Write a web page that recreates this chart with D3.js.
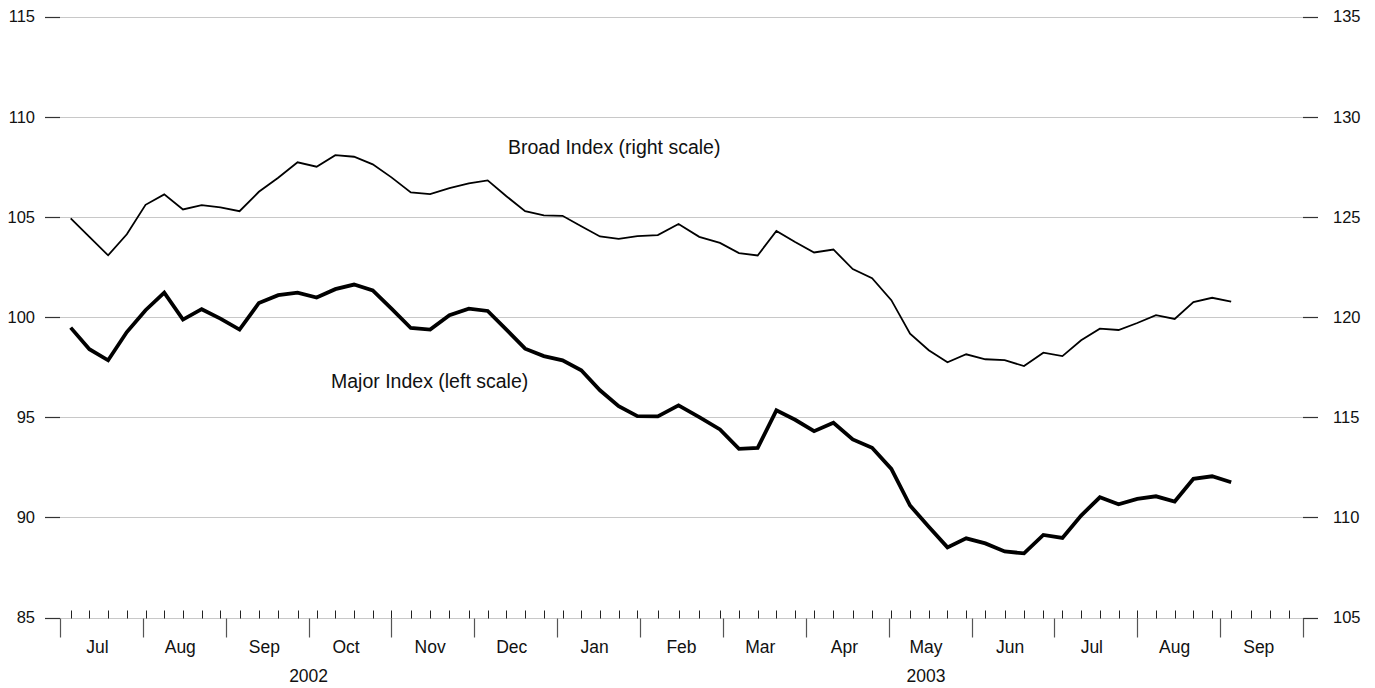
<!DOCTYPE html>
<html>
<head>
<meta charset="utf-8">
<script src="https://cdn.jsdelivr.net/npm/d3@7"></script>
<style>
  html, body { margin: 0; padding: 0; background: #fff; }
  svg { display: block; }
  text { font-family: "Liberation Sans", Helvetica, Arial, sans-serif; fill: #111; }
</style>
</head>
<body>
<svg id="chart" width="1375" height="688"></svg>
<script>
// ---------------- DATA ----------------
const weekDates = [
  "2002-07-05","2002-07-12","2002-07-19","2002-07-26",
  "2002-08-02","2002-08-09","2002-08-16","2002-08-23","2002-08-30",
  "2002-09-06","2002-09-13","2002-09-20","2002-09-27",
  "2002-10-04","2002-10-11","2002-10-18","2002-10-25",
  "2002-11-01","2002-11-08","2002-11-15","2002-11-22","2002-11-29",
  "2002-12-06","2002-12-13","2002-12-20","2002-12-27",
  "2003-01-03","2003-01-10","2003-01-17","2003-01-24","2003-01-31",
  "2003-02-07","2003-02-14","2003-02-21","2003-02-28",
  "2003-03-07","2003-03-14","2003-03-21","2003-03-28",
  "2003-04-04","2003-04-11","2003-04-18","2003-04-25",
  "2003-05-02","2003-05-09","2003-05-16","2003-05-23","2003-05-30",
  "2003-06-06","2003-06-13","2003-06-20","2003-06-27",
  "2003-07-04","2003-07-11","2003-07-18","2003-07-25",
  "2003-08-01","2003-08-08","2003-08-15","2003-08-22","2003-08-29",
  "2003-09-05"
];

// Broad Index (right scale)
const broadIndex = [
  124.92, 124.00, 123.08, 124.13,
  125.60, 126.12, 125.37, 125.58, 125.47,
  125.28, 126.25, 126.95, 127.72,
  127.50, 128.08, 128.00, 127.62,
  126.97, 126.22, 126.13, 126.43, 126.67,
  126.82, 126.03, 125.28, 125.07,
  125.05, 124.53, 124.02, 123.90, 124.04,
  124.09, 124.64, 124.00, 123.70,
  123.19, 123.07, 124.30, 123.74,
  123.22, 123.37, 122.39, 121.94,
  120.84, 119.17, 118.34, 117.74, 118.14,
  117.89, 117.85, 117.55, 118.22,
  118.05, 118.84, 119.42, 119.35,
  119.70, 120.09, 119.90, 120.74, 120.96,
  120.77
];

// Major Index (left scale)
const majorIndex = [
  99.47, 98.39, 97.84, 99.25,
  100.34, 101.22, 99.87, 100.39, 99.92,
  99.37, 100.70, 101.09, 101.22,
  100.97, 101.39, 101.62, 101.33,
  100.42, 99.45, 99.37, 100.09, 100.42,
  100.30, 99.37, 98.42, 98.05,
  97.84, 97.34, 96.34, 95.55, 95.05,
  95.04, 95.59, 95.00, 94.39,
  93.42, 93.47, 95.34, 94.87,
  94.30, 94.72, 93.89, 93.47,
  92.42, 90.59, 89.53, 88.50, 88.95,
  88.70, 88.30, 88.20, 89.12,
  88.97, 90.09, 91.00, 90.65,
  90.92, 91.05, 90.79, 91.92, 92.05,
  91.75
];

const leftTicks = [85, 90, 95, 100, 105, 110, 115];
const rightTicks = [105, 110, 115, 120, 125, 130, 135];
const monthLabels = ["Jul","Aug","Sep","Oct","Nov","Dec","Jan","Feb","Mar","Apr","May","Jun","Jul","Aug","Sep"];
const yearLabels = ["2002", "2003"];
const yearCentres = ["2002-10-01", "2003-05-15"];
const seriesLabels = ["Broad Index (right scale)", "Major Index (left scale)"];

// ---------------- SCALES ----------------
const parse = d3.timeParse("%Y-%m-%d");
const startMonth = new Date(2002, 6, 1); // Jul 2002
const nMonths = monthLabels.length;

const monthScale = d3.scaleLinear().domain([0, nMonths]).range([60, 1303]);
// each month has equal width; position within a month is by day
function monthPos(date) {
  const mStart = d3.timeMonth.floor(date);
  const m = d3.timeMonth.count(startMonth, mStart);
  const mEnd = d3.timeMonth.offset(mStart, 1);
  return m + (date - mStart) / (mEnd - mStart);
}
const x = d => monthScale(monthPos(d));

const yL = d3.scaleLinear().domain([85, 115]).range([617.5, 16.5]);
const yR = d3.scaleLinear().domain([105, 135]).range([617.5, 16.5]);

const dates = weekDates.map(parse);

const svg = d3.select("#chart");

// ---------------- GRID ----------------
svg.append("g").selectAll("line").data(leftTicks).join("line")
  .attr("x1", 60).attr("x2", 1303)
  .attr("y1", d => Math.round(yL(d)) + 0.5).attr("y2", d => Math.round(yL(d)) + 0.5)
  .attr("stroke", "#c8c8c8").attr("stroke-width", 1.2);

// left axis ticks and labels
const gl = svg.append("g");
gl.selectAll("line").data(leftTicks).join("line")
  .attr("x1", 45).attr("x2", 60)
  .attr("y1", d => Math.round(yL(d)) + 0.5).attr("y2", d => Math.round(yL(d)) + 0.5)
  .attr("stroke", "#333").attr("stroke-width", 1.2);
gl.selectAll("text").data(leftTicks).join("text")
  .attr("x", 35).attr("y", d => yL(d))
  .attr("dy", "0.36em").attr("text-anchor", "end")
  .style("font-size", "16.5px")
  .text(d => d);

// right axis ticks and labels
const gr = svg.append("g");
gr.selectAll("line").data(rightTicks).join("line")
  .attr("x1", 1303).attr("x2", 1318)
  .attr("y1", d => Math.round(yR(d)) + 0.5).attr("y2", d => Math.round(yR(d)) + 0.5)
  .attr("stroke", "#333").attr("stroke-width", 1.2);
gr.selectAll("text").data(rightTicks).join("text")
  .attr("x", 1333).attr("y", d => yR(d))
  .attr("dy", "0.36em").attr("text-anchor", "start")
  .style("font-size", "16.5px")
  .text(d => d);

// ---------------- X AXIS ----------------
const baseY = Math.round(yL(85)) + 0.5;
// weekly ticks (Fridays)
const weekTicks = d3.timeFriday.range(new Date(2002, 6, 1), new Date(2003, 9, 1));
svg.append("g").selectAll("line").data(weekTicks).join("line")
  .attr("x1", d => Math.round(x(d)) + 0.5).attr("x2", d => Math.round(x(d)) + 0.5)
  .attr("y1", baseY - 8).attr("y2", baseY)
  .attr("stroke", "#222").attr("stroke-width", 1);

// month boundary ticks
const monthTicks = d3.range(nMonths + 1);
svg.append("g").selectAll("line").data(monthTicks).join("line")
  .attr("x1", d => Math.round(monthScale(d)) + 0.5).attr("x2", d => Math.round(monthScale(d)) + 0.5)
  .attr("y1", baseY).attr("y2", baseY + 19)
  .attr("stroke", "#555").attr("stroke-width", 1.2);

// month labels centred on the 15th
svg.append("g").selectAll("text").data(monthLabels).join("text")
  .attr("x", (d, i) => x(new Date(2002, 6 + i, 15)))
  .attr("y", 653)
  .attr("text-anchor", "middle")
  .style("font-size", "17.5px")
  .text(d => d);

// year labels
svg.append("g").selectAll("text").data(yearLabels).join("text")
  .attr("x", (d, i) => x(parse(yearCentres[i])))
  .attr("y", 682)
  .attr("text-anchor", "middle")
  .style("font-size", "17.5px")
  .text(d => d);

// ---------------- LINES ----------------
const lineR = d3.line().x((d, i) => x(dates[i])).y(d => yR(d));
const lineL = d3.line().x((d, i) => x(dates[i])).y(d => yL(d));

svg.append("path").datum(broadIndex)
  .attr("d", lineR)
  .attr("fill", "none").attr("stroke", "#000").attr("stroke-width", 1.8)
  .attr("stroke-linejoin", "miter");

svg.append("path").datum(majorIndex)
  .attr("d", lineL)
  .attr("fill", "none").attr("stroke", "#000").attr("stroke-width", 3.8)
  .attr("stroke-linejoin", "miter");

// ---------------- ANNOTATIONS ----------------
svg.append("text").attr("x", 508).attr("y", 154)
  .style("font-size", "19.5px").text(seriesLabels[0]);
svg.append("text").attr("x", 331).attr("y", 388)
  .style("font-size", "19.5px").text(seriesLabels[1]);
</script>
</body>
</html>
